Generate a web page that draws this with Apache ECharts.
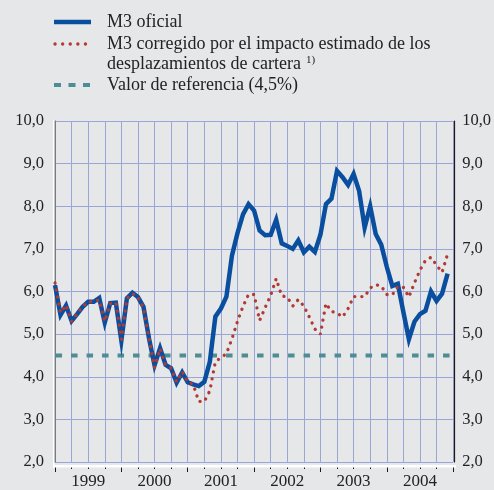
<!DOCTYPE html>
<html>
<head>
<meta charset="utf-8">
<script src="https://cdn.jsdelivr.net/npm/echarts@6/dist/echarts.min.js"></script>
<style>
html,body{margin:0;padding:0;background:#e6e7e9;}
#c{width:494px;height:490px;}
</style>
</head>
<body>
<div id="c"></div>
<script>
// Monthly data, Jan 1999 - Dec 2004 (annual % change)
var yearLabels = ['1999', '2000', '2001', '2002', '2003', '2004'];
var m3Oficial = [
  6.15, 5.45, 5.67, 5.31, 5.47, 5.64, 5.76, 5.76, 5.85, 5.27, 5.73, 5.74,
  4.85, 5.84, 5.97, 5.87, 5.64, 4.90, 4.27, 4.67, 4.28, 4.20, 3.86, 4.10,
  3.87, 3.82, 3.78, 3.88, 4.35, 5.41, 5.60, 5.88, 6.84, 7.37, 7.81, 8.05,
  7.90, 7.43, 7.32, 7.33, 7.68, 7.13, 7.07, 7.00, 7.20, 6.92, 7.05, 6.93,
  7.33, 8.05, 8.18, 8.83, 8.68, 8.50, 8.76, 8.36, 7.50, 8.00, 7.35, 7.10,
  6.58, 6.13, 6.18, 5.52, 4.88, 5.29, 5.47, 5.55, 6.00, 5.78, 5.95, 6.42
];
var m3Corregido = [
  6.20, 5.50, 5.68, 5.30, 5.48, 5.65, 5.76, 5.76, 5.80, 5.30, 5.72, 5.74,
  4.88, 5.84, 5.95, 5.87, 5.62, 4.90, 4.22, 4.66, 4.27, 4.20, 3.88, 4.12,
  3.88, 3.82, 3.42, 3.42, 3.67, 4.35, 4.45, 4.54, 4.89, 5.30, 5.65, 5.93,
  5.93, 5.32, 5.62, 5.91, 6.30, 5.90, 5.87, 5.66, 5.81, 5.66, 5.40, 5.12,
  5.00, 5.72, 5.53, 5.50, 5.40, 5.60, 5.88, 5.88, 5.88, 6.08, 6.16, 6.13,
  5.93, 5.92, 6.12, 6.10, 5.87, 6.20, 6.50, 6.73, 6.80, 6.62, 6.45, 6.88
];
var valorReferencia = 4.5;
var yMin = 2, yMax = 10, yStep = 1;
var legendNames = ['M3 oficial',
  'M3 corregido por el impacto estimado de los',
  'desplazamientos de cartera',
  'Valor de referencia (4,5%)'];
var footnoteMark = '1)';

var FONT = '"Liberation Serif", "Times New Roman", serif';
var BLUE = '#0a4f9f', RED = '#b23a33', TEAL = '#4e8c96', GRID = '#9aa6d6';

function pts(arr) { return arr.map(function (v, i) { return [i, v]; }); }
function fmt(v) { return v.toFixed(1).replace('.', ','); }

var chart = echarts.init(document.getElementById('c'), null, {renderer: 'canvas'});

var option = {
  backgroundColor: '#e6e7e9',
  animation: false,
  grid: {left: 55, right: 39, top: 121, bottom: 25, containLabel: false},
  xAxis: [{
    type: 'value', min: 0, max: 72, interval: 12,
    axisLine: {show: true, onZero: false, lineStyle: {color: '#1a1a1a', width: 1}},
    axisTick: {show: true, length: 7, inside: false, lineStyle: {color: '#1a1a1a'}},
    minorTick: {show: true, splitNumber: 4, length: 4, lineStyle: {color: '#1a1a1a'}},
    splitLine: {show: true, lineStyle: {color: GRID, width: 1}},
    minorSplitLine: {show: true, lineStyle: {color: GRID, width: 1}},
    axisLabel: {show: false},
    offset: 3
  }, {
    type: 'category', data: yearLabels, boundaryGap: true, position: 'bottom',
    axisLine: {show: false}, axisTick: {show: false}, splitLine: {show: false},
    axisLabel: {show: true, fontFamily: FONT, fontSize: 17, color: '#222', margin: 8},
    offset: 3
  }],
  yAxis: [{
    type: 'value', min: yMin, max: yMax, interval: yStep, position: 'left',
    axisLine: {show: true, lineStyle: {color: '#6b6b6b', width: 1.5}},
    axisTick: {show: false},
    splitLine: {show: true, lineStyle: {color: GRID, width: 1}},
    axisLabel: {formatter: fmt, fontFamily: FONT, fontSize: 16.5, color: '#222', margin: 11}
  }, {
    type: 'value', min: yMin, max: yMax, interval: yStep, position: 'right',
    axisLine: {show: true, lineStyle: {color: '#1a1a1a', width: 1.2}},
    axisTick: {show: false},
    splitLine: {show: false},
    axisLabel: {formatter: fmt, fontFamily: FONT, fontSize: 16.5, color: '#222', margin: 8},
    offset: 1
  }],
  series: [{
    name: legendNames[3], type: 'line', xAxisIndex: 0, yAxisIndex: 0,
    data: [[0.1, valorReferencia], [71.8, valorReferencia]],
    symbol: 'none', silent: true,
    lineStyle: {color: TEAL, width: 4, type: [6.5, 9], cap: 'butt'}
  }, {
    name: legendNames[0], type: 'line', xAxisIndex: 0, yAxisIndex: 0,
    data: pts(m3Oficial), symbol: 'none',
    lineStyle: {color: BLUE, width: 4.5, join: 'miter'}
  }, {
    name: legendNames[1], type: 'line', xAxisIndex: 0, yAxisIndex: 0,
    data: pts(m3Corregido), symbol: 'none',
    lineStyle: {color: RED, width: 3.3, type: [0.1, 7], cap: 'round'}
  }],
  graphic: [
    {type: 'rect', shape: {x: 53, y: 120, width: 1.5, height: 348}, style: {fill: '#ffffff'}, z: 1},
    {type: 'rect', shape: {x: 53, y: 465, width: 403, height: 2.5}, style: {fill: '#ffffff'}, z: 1},
    {type: 'line', shape: {x1: 54, y1: 22, x2: 91, y2: 22}, style: {stroke: BLUE, lineWidth: 4.5}},
    {type: 'text', x: 107, y: 22, style: {text: legendNames[0], font: '18px ' + FONT, fill: '#222', verticalAlign: 'middle'}},
    {type: 'line', shape: {x1: 55, y1: 44, x2: 92, y2: 44}, style: {stroke: RED, lineWidth: 3.3, lineDash: [0.1, 7.5], lineCap: 'round'}},
    {type: 'text', x: 107, y: 44, style: {text: legendNames[1], font: '18px ' + FONT, fill: '#222', verticalAlign: 'middle'}},
    {type: 'text', x: 107, y: 64, style: {text: legendNames[2], font: '18px ' + FONT, fill: '#222', verticalAlign: 'middle'}},
    {type: 'text', x: 306, y: 60, style: {text: footnoteMark, font: '11px ' + FONT, fill: '#222', verticalAlign: 'middle'}},
    {type: 'line', shape: {x1: 54, y1: 85, x2: 91, y2: 85}, style: {stroke: TEAL, lineWidth: 4, lineDash: [7, 7.5]}},
    {type: 'text', x: 107, y: 85, style: {text: legendNames[3], font: '18px ' + FONT, fill: '#222', verticalAlign: 'middle'}}
  ]
};
chart.setOption(option);
</script>
</body>
</html>
